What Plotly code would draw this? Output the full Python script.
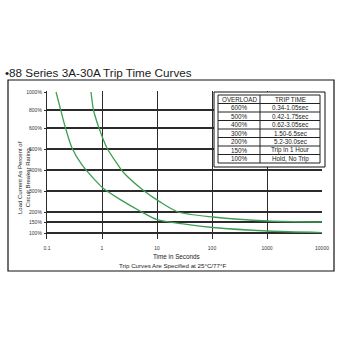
import numpy as np
import plotly.graph_objects as go

# ---- data ----
y_tick_pct = [100, 150, 200, 300, 400, 500, 600, 800, 1000]
y_tick_text = ["100%", "150%", "200%", "300%", "400%", "500%", "600%", "800%", "1000%"]
# non-uniform vertical scale of the original chart (axis scale definition)
y_tick_pos = [0, 11, 21, 42, 63, 84, 105, 123, 141]

x_tick_vals = [0.1, 1, 10, 100, 1000, 10000]
x_tick_text = ["0.1", "1", "10", "100", "1000", "10000"]

# minimum trip curve (time s, load %)
min_t = [0.146, 0.176, 0.217, 0.285, 0.433, 0.746, 1.04, 2.12, 4.9, 10, 32.3, 104, 1042, 10000]
min_pct = [1000, 810, 600, 505, 424, 352, 314, 260, 205, 162, 140, 125, 109, 102]

# maximum trip curve (time s, load %)
max_t = [0.631, 0.70, 0.882, 1.233, 1.954, 2.51, 5.56, 11.34, 24.1, 104, 1042, 10000]
max_pct = [1000, 800, 600, 505, 424, 386, 305, 248, 200, 175, 155, 150]

table_header = ["OVERLOAD", "TRIP TIME"]
overload = ["600%", "500%", "400%", "300%", "200%", "150%", "100%"]
trip_time = ["0.34-1.05sec", "0.42-1.75sec", "0.62-3.05sec", "1.50-6.5sec",
             "5.2-30.0sec", "Trip in 1 Hour", "Hold, No Trip"]


def to_pos(p):
    return np.interp(p, y_tick_pct, y_tick_pos)


FONT = "Liberation Sans, Arial, sans-serif"
GREEN = "#3f9e52"
GRID = "#2b2b2b"

fig = go.Figure()
fig.add_trace(go.Scatter(x=min_t, y=to_pos(min_pct), mode="lines",
                         line=dict(color=GREEN, width=1.3, shape="spline", smoothing=0.7),
                         hoverinfo="skip", showlegend=False))
fig.add_trace(go.Scatter(x=max_t, y=to_pos(max_pct), mode="lines",
                         line=dict(color=GREEN, width=1.3, shape="spline", smoothing=0.7),
                         hoverinfo="skip", showlegend=False))

L, R, T, B = 47, 18, 91, 101
W = 340 - L - R
H = 340 - T - B


def px(x):
    return (x - L) / W


def py(y):
    return (340 - B - y) / H


shapes = [
    dict(type="rect", xref="paper", yref="paper",
         x0=px(8), x1=px(334), y0=py(271), y1=py(80),
         line=dict(color="#111", width=1.2), layer="below"),
    dict(type="rect", xref="paper", yref="paper",
         x0=px(214), x1=px(325), y0=py(167), y1=py(92),
         line=dict(color="#111", width=1), fillcolor="white", layer="above"),
]
annotations = []

# table drawn with shapes + annotations
tx0, tx1, txm = 218, 320, 260
ty0, rh = 95, 8.5
rows = [table_header] + [[a, b] for a, b in zip(overload, trip_time)]
n = len(rows)
for i in range(n + 1):
    yy = ty0 + i * rh
    shapes.append(dict(type="line", xref="paper", yref="paper",
                       x0=px(tx0), x1=px(tx1), y0=py(yy), y1=py(yy),
                       line=dict(color="#222", width=1), layer="above"))
for xx in (tx0, txm, tx1):
    shapes.append(dict(type="line", xref="paper", yref="paper",
                       x0=px(xx), x1=px(xx), y0=py(ty0), y1=py(ty0 + n * rh),
                       line=dict(color="#222", width=1), layer="above"))
for i, row in enumerate(rows):
    yc = ty0 + (i + 0.5) * rh
    for j, txt in enumerate(row):
        xc = (tx0 + txm) / 2 if j == 0 else (txm + tx1) / 2
        annotations.append(dict(text=txt, xref="paper", yref="paper",
                                x=px(xc), y=py(yc), xanchor="center", yanchor="middle",
                                showarrow=False,
                                font=dict(family=FONT, size=6.3, color="#222")))

annotations += [
    dict(text="•88 Series 3A-30A Trip Time Curves", xref="paper", yref="paper",
         x=px(3), y=py(73), xanchor="left", yanchor="middle", showarrow=False,
         font=dict(family=FONT, size=11.7, color="#1a1a1a")),
    dict(text="Load Current As Percent of<br>Circuit Breaker Rating", xref="paper", yref="paper",
         x=px(24), y=py(178), xanchor="center", yanchor="middle", showarrow=False,
         textangle=-90, font=dict(family=FONT, size=6, color="#222")),
    dict(text="Time in Seconds", xref="paper", yref="paper",
         x=px(176), y=py(256), xanchor="center", yanchor="middle", showarrow=False,
         font=dict(family=FONT, size=6.3, color="#222")),
    dict(text="Trip Curves Are Specified at 25°C/77°F", xref="paper", yref="paper",
         x=px(172), y=py(265), xanchor="center", yanchor="middle", showarrow=False,
         font=dict(family=FONT, size=6.2, color="#222")),
]

fig.update_layout(
    width=340, height=340,
    margin=dict(l=L, r=R, t=T, b=B),
    paper_bgcolor="white", plot_bgcolor="white",
    showlegend=False,
    font=dict(family=FONT, color="#222"),
    xaxis=dict(type="log", range=[-1, 4], tickmode="array",
               tickvals=x_tick_vals, ticktext=x_tick_text,
               showgrid=False, zeroline=False, showline=False,
               ticks="", ticklabelstandoff=5,
               tickfont=dict(family=FONT, size=5, color="#333"),
               minor=dict(tickmode="array", tickvals=[1, 10, 100, 1000],
                          showgrid=True, gridcolor=GRID, gridwidth=1.4, ticks="")),
    yaxis=dict(range=[-6, 142], tickmode="array",
               tickvals=y_tick_pos, ticktext=y_tick_text,
               showgrid=True, gridcolor=GRID, gridwidth=1.7, zeroline=False,
               showline=True, linecolor=GRID, linewidth=1.3,
               ticks="outside", ticklen=2, tickcolor=GRID, tickwidth=1,
               ticklabelstandoff=1,
               tickfont=dict(family=FONT, size=5, color="#333")),
    shapes=shapes,
    annotations=annotations,
)

fig.write_html("out.html", config=dict(displayModeBar=False))
